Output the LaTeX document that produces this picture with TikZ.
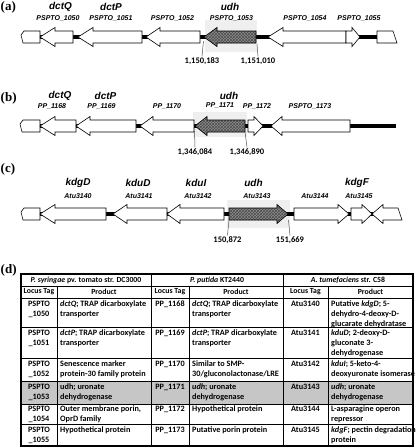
\documentclass[tikz,border=0pt]{standalone}
\usepackage{fontspec}
\setmainfont{Carlito}
\newfontfamily\arialfont{Liberation Sans}
\newfontfamily\timesfont{Liberation Serif}
\usetikzlibrary{patterns}
\definecolor{udhShade}{HTML}{EFEFEF}
\definecolor{udhFill} {HTML}{8E8E8E}
\definecolor{rowShade}{HTML}{C6C6C6}
\definecolor{cLeader} {HTML}{505050}

\newcommand{\geneleft}[5][14]{%
  \draw[#5] (#2,#4) -- (#2+#1,#4-9.5) -- (#2+#1,#4-6) -- (#3,#4-6) -- (#3,#4+6)
    -- (#2+#1,#4+6) -- (#2+#1,#4+9.5) -- cycle;}
\newcommand{\generight}[5][14]{%
  \draw[#5] (#2,#4-6) -- (#3-#1,#4-6) -- (#3-#1,#4-9.5) -- (#3,#4) -- (#3-#1,#4+9.5)
    -- (#3-#1,#4+6) -- (#2,#4+6) -- cycle;}

\tikzset{
  gene/.style={draw=black, fill=white, line width=0.6pt, line join=miter},
  udhgene/.style={gene, preaction={fill=udhFill}, pattern=crosshatch, pattern color=black!70},
  spine/.style={line width=4pt},
  genename/.style={font=\arialfont\fontsize{10}{12}\selectfont\bfseries\itshape, inner sep=0pt},
  locus/.style={font=\arialfont\fontsize{7}{8}\selectfont\bfseries\itshape, inner sep=0pt},
  position/.style={font=\fontsize{8.5}{10}\selectfont\bfseries, inner sep=1pt},
  panel/.style={font=\timesfont\fontsize{13}{14}\selectfont\bfseries, anchor=west, inner sep=0pt},
  leader/.style={line width=0.5pt, draw=cLeader},
  cell/.style={font=\fontsize{8.2}{10}\selectfont\bfseries, inner sep=0pt, align=left, anchor=north west},
  tagcell/.style={cell, align=center, anchor=north},
  headcell/.style={font=\fontsize{7.8}{10}\selectfont\bfseries, inner sep=0pt},
  grid/.style={line width=0.5pt},
  frame/.style={line width=1.1pt},
}

\begin{document}
\begin{tikzpicture}[x=1pt, y=-1pt]
  \useasboundingbox (0,0) rectangle (416,448);

  % (a) P. syringae
  \node[panel] (pa) at (0.5,7) {(a)};
  \fill[udhShade] (205,20) rectangle (257,52);
  \draw[spine] (40,37) -- (377,37);
  \draw[gene] (40,31) -- (24,31) -- (21,35) -- (23,43) -- (40,43) -- cycle;
  \geneleft[15]{40}{73}{37}{gene}
  \geneleft[15]{78}{142}{37}{gene}
  \geneleft{146}{200}{37}{gene}
  \geneleft[13]{204}{256}{37}{udhgene}
  \geneleft[15]{268}{346}{37}{gene}
  \generight[8]{346}{360}{37}{gene}
  \draw[gene] (377,31) -- (393,31) -- (397,43) -- (377,43) -- cycle;
  \node[genename] (dctQa) at (60.5,6.5) {dctQ};
  \node[genename] (dctPa) at (111,6.5) {dctP};
  \node[genename] (udha) at (230,6.5) {udh};
  \node[locus] (l1050) at (58,18) {PSPTO\_1050};
  \node[locus] (l1051) at (111,18) {PSPTO\_1051};
  \node[locus] (l1052) at (172.5,18) {PSPTO\_1052};
  \node[locus] (l1053) at (231.5,18) {PSPTO\_1053};
  \node[locus] (l1054) at (305,18) {PSPTO\_1054};
  \node[locus] (l1055) at (359,18) {PSPTO\_1055};
  \coordinate (aStart) at (203.5,41);
  \coordinate (aStop) at (257,44);
  \node[position] (aNum1) at (202,61) {1,150,183};
  \node[position] (aNum2) at (258,61) {1,151,010};
  \draw[leader] (aStart) -- (aNum1.north);
  \draw[leader] (aStop) -- (aNum2.north);

  % (b) P. putida
  \node[panel] (pb) at (0.5,98) {(b)};
  \fill[udhShade] (193,112) rectangle (247,137);
  \draw[spine] (40,126) -- (396,126);
  \draw[gene] (40,120) -- (23,120) -- (20,124) -- (22,132) -- (40,132) -- cycle;
  \geneleft[15]{40}{76}{126}{gene}
  \geneleft{76}{136}{126}{gene}
  \geneleft[13]{140}{194}{126}{gene}
  \geneleft[12]{195}{245}{126}{udhgene}
  \generight[9]{248}{263}{126}{gene}
  \geneleft[11]{271}{350}{126}{gene}
  \node[genename] (dctQb) at (60,96) {dctQ};
  \node[genename] (dctPb) at (105.5,96) {dctP};
  \node[genename] (udhb) at (229,96) {udh};
  \node[locus] (l1168) at (52,106) {PP\_1168};
  \node[locus] (l1169) at (101.5,106) {PP\_1169};
  \node[locus] (l1170) at (167,106) {PP\_1170};
  \node[locus] (l1171) at (220,106) {PP\_1171};
  \node[locus] (l1172) at (257,106) {PP\_1172};
  \node[locus] (l1173) at (310,106) {PSPTO\_1173};
  \coordinate (bStart) at (194.5,131);
  \coordinate (bStop) at (245,132);
  \node[position] (bNum1) at (195,152) {1,346,084};
  \node[position] (bNum2) at (247,152) {1,346,890};
  \draw[leader] (bStart) -- (bNum1.north);
  \draw[leader] (bStop) -- (bNum2.north);

  % (c) A. tumefaciens
  \node[panel] (pc) at (0.5,169) {(c)};
  \fill[udhShade] (227,200) rectangle (290,228);
  \draw[spine] (40,214) -- (383,214);
  \draw[gene] (40,208) -- (24,208) -- (21,212) -- (23,220) -- (40,220) -- cycle;
  \geneleft[15]{40}{106}{214}{gene}
  \geneleft{113}{167}{214}{gene}
  \geneleft[13]{167}{224}{214}{gene}
  \generight[11]{229}{288}{214}{udhgene}
  \generight[11]{294}{349}{214}{gene}
  \generight[10]{351}{372}{214}{gene}
  \draw[gene] (372,214) -- (383,204.5) -- (383,208) -- (398,208) -- (402,220) -- (383,220)
    -- (383,223.5) -- cycle;
  \node[genename] (kdgD) at (78,182.5) {kdgD};
  \node[genename] (kduD) at (138,182.5) {kduD};
  \node[genename] (kduI) at (196,182.5) {kduI};
  \node[genename] (udhc) at (253.5,182.5) {udh};
  \node[genename] (kdgF) at (357,182.5) {kdgF};
  \node[locus] (l3140) at (78,196.5) {Atu3140};
  \node[locus] (l3141) at (139,196.5) {Atu3141};
  \node[locus] (l3142) at (198,196.5) {Atu3142};
  \node[locus] (l3143) at (257,196.5) {Atu3143};
  \node[locus] (l3144) at (315,196.5) {Atu3144};
  \node[locus] (l3145) at (359,196.5) {Atu3145};
  \coordinate (cStart) at (229,220);
  \coordinate (cStop) at (288.5,220);
  \node[position] (cNum1) at (227.5,240) {150,872};
  \node[position] (cNum2) at (290,240) {151,669};
  \draw[leader] (cStart) -- (cNum1.north);
  \draw[leader] (cStop) -- (cNum2.north);

  % (d) table
  \node[panel] (pd) at (0.5,270) {(d)};
  \fill[rowShade] (21,381) rectangle (413,404);
  \foreach \yy in {298,327,358,381,404,424}
    \draw[grid] (21,\yy) -- (413,\yy);
  \draw[grid] (21,286) -- (413,286);
  \foreach \xx in {57,189,328}
    \draw[grid] (\xx,286) -- (\xx,446);
  \draw[line width=1pt] (151,274) -- (151,446);
  \draw[line width=1pt] (283,274) -- (283,446);
  \draw[frame] (21,274) rectangle (413,446);

  \node[headcell] (hSy) at (86,280) {\textit{P. syringae} pv. tomato str. DC3000};
  \node[headcell] (hPu) at (217,280) {\textit{P. putida} KT2440};
  \node[headcell] (hTu) at (348,280) {\textit{A. tumefaciens} str. C58};
  \node[headcell] (tSy) at (39,292) {Locus Tag};
  \node[headcell] (pSy) at (104,292) {Product};
  \node[headcell] (tPu) at (170,292) {Locus Tag};
  \node[headcell] (pPu) at (236,292) {Product};
  \node[headcell] (tTu) at (305.5,292) {Locus Tag};
  \node[headcell] (pTu) at (370.5,292) {Product};

  \node[tagcell] (sy1) at (39,300.5) {PSPTO\\\_1050};
  \node[cell] (syp1) at (60,300.5) {\textit{dctQ}; TRAP dicarboxylate\\transporter};
  \node[tagcell] (pu1) at (170,300.5) {PP\_1168};
  \node[cell] (pup1) at (192,300.5) {\textit{dctQ}; TRAP dicarboxylate\\transporter};
  \node[tagcell] (tu1) at (305.5,300.5) {Atu3140};
  \node[cell] (tup1) at (331,300.5) {Putative \textit{kdgD}; 5-\\dehydro-4-deoxy-D-\\glucarate dehydratase};

  \node[tagcell] (sy2) at (39,329.5) {PSPTO\\\_1051};
  \node[cell] (syp2) at (60,329.5) {\textit{dctP}; TRAP dicarboxylate\\transporter};
  \node[tagcell] (pu2) at (170,329.5) {PP\_1169};
  \node[cell] (pup2) at (192,329.5) {\textit{dctP}; TRAP dicarboxylate\\transporter};
  \node[tagcell] (tu2) at (305.5,329.5) {Atu3141};
  \node[cell] (tup2) at (331,329.5) {\textit{kduD}; 2-deoxy-D-\\gluconate 3-\\dehydrogenase};

  \node[tagcell] (sy3) at (39,360.5) {PSPTO\\\_1052};
  \node[cell] (syp3) at (60,360.5) {Senescence marker\\protein-30 family protein};
  \node[tagcell] (pu3) at (170,360.5) {PP\_1170};
  \node[cell] (pup3) at (192,360.5) {Similar to SMP-\\30/gluconolactonase/LRE};
  \node[tagcell] (tu3) at (305.5,360.5) {Atu3142};
  \node[cell] (tup3) at (331,360.5) {\textit{kduI}; 5-keto-4-\\deoxyuronate isomerase};

  \node[tagcell] (sy4) at (39,383.5) {PSPTO\\\_1053};
  \node[cell] (syp4) at (60,383.5) {udh; uronate\\dehydrogenase};
  \node[tagcell] (pu4) at (170,383.5) {PP\_1171};
  \node[cell] (pup4) at (192,383.5) {\textit{udh}; uronate\\dehydrogenase};
  \node[tagcell] (tu4) at (305.5,383.5) {Atu3143};
  \node[cell] (tup4) at (331,383.5) {\textit{udh}; uronate\\dehydrogenase};

  \node[tagcell] (sy5) at (39,406) {PSPTO\\\_1054};
  \node[cell] (syp5) at (60,406) {Outer membrane porin,\\OprD family};
  \node[tagcell] (pu5) at (170,406) {PP\_1172};
  \node[cell] (pup5) at (192,406) {Hypothetical protein};
  \node[tagcell] (tu5) at (305.5,406) {Atu3144};
  \node[cell] (tup5) at (331,406) {L-asparagine operon\\repressor};

  \node[tagcell] (sy6) at (39,426.5) {PSPTO\\\_1055};
  \node[cell] (syp6) at (60,426.5) {Hypothetical protein};
  \node[tagcell] (pu6) at (170,426.5) {PP\_1173};
  \node[cell] (pup6) at (192,426.5) {Putative porin protein};
  \node[tagcell] (tu6) at (305.5,426.5) {Atu3145};
  \node[cell] (tup6) at (331,426.5) {\textit{kdgF}; pectin degradation\\protein};
\end{tikzpicture}
\end{document}
